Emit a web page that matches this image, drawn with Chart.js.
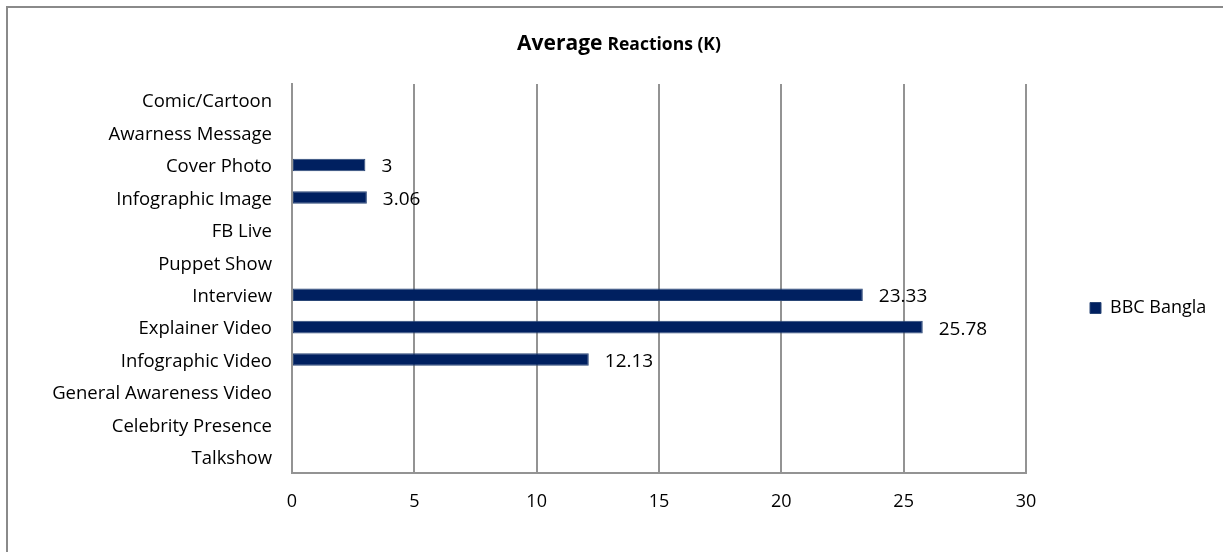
<!DOCTYPE html>
<html>
<head>
<meta charset="utf-8">
<script src="https://cdn.jsdelivr.net/npm/chart.js@4.4.0/dist/chart.umd.min.js"></script>
<style>
  html, body { margin: 0; padding: 0; background: #ffffff; }
  #wrap { position: relative; width: 1223px; height: 552px; }
</style>
</head>
<body>
<div id="wrap"><canvas id="chart"></canvas></div>
<script>
// Content categories, top to bottom
const categories = [
  'Comic/Cartoon', 'Awarness Message', 'Cover Photo', 'Infographic Image',
  'FB Live', 'Puppet Show', 'Interview', 'Explainer Video',
  'Infographic Video', 'General Awareness Video', 'Celebrity Presence', 'Talkshow'
];
// Average reactions in thousands (blank where no posts)
const bbcBangla = [null, null, 3, 3.06, null, null, 23.33, 25.78, 12.13, null, null, null];
const seriesName = 'BBC Bangla';
// Value axis ticks
const xTicks = [0, 5, 10, 15, 20, 25, 30];
// Title pieces: text and font size
const titleParts = [['Average', 21], ['Reactions (K)', 17.5]];

const FONT = "'Open Sans', Lato, sans-serif";
const NAVY = '#002060';
const GRID = '#939393';

// Plot area edges in canvas pixels
const PLOT = { left: 292, right: 1026, top: 84, bottom: 473 };
const W = 1223, H = 552;
const PAD_BOTTOM = 20;

// Legend sizing so the plot ends at PLOT.right
const legendFontSize = 18, legendBox = 11, legendPad = 64;
const mctx = document.createElement('canvas').getContext('2d');
mctx.font = legendFontSize + 'px ' + FONT;
const legendWidth = legendPad + legendBox + legendFontSize / 2 + mctx.measureText(seriesName).width + 10;
const padRight = Math.max(0, W - PLOT.right - legendWidth);

const framePlugin = {
  id: 'frame',
  beforeDraw(chart) {
    const c = chart.ctx;
    c.save();
    c.fillStyle = '#ffffff';
    c.fillRect(0, 0, chart.width, chart.height);
    c.strokeStyle = '#8a8a8a';
    c.lineWidth = 2;
    c.beginPath();
    c.moveTo(7, H);
    c.lineTo(7, 7);
    c.lineTo(W, 7);
    c.stroke();
    c.restore();
  }
};

const titlePlugin = {
  id: 'mixedTitle',
  afterDraw(chart) {
    const c = chart.ctx;
    c.save();
    c.fillStyle = '#000000';
    c.textBaseline = 'alphabetic';
    const gap = 5;
    let total = 0;
    const widths = titleParts.map(([t, s]) => {
      c.font = 'bold ' + s + 'px ' + FONT;
      const w = c.measureText(t).width;
      total += w;
      return w;
    });
    total += gap * (titleParts.length - 1);
    let x = 619 - total / 2;
    titleParts.forEach(([t, s], i) => {
      c.font = 'bold ' + s + 'px ' + FONT;
      c.fillText(t, x, 50);
      x += widths[i] + gap;
    });
    c.restore();
  }
};

const valueLabels = {
  id: 'valueLabels',
  afterDatasetsDraw(chart) {
    const c = chart.ctx;
    const meta = chart.getDatasetMeta(0);
    c.save();
    c.font = '19px ' + FONT;
    c.fillStyle = '#000000';
    c.textAlign = 'left';
    c.textBaseline = 'middle';
    meta.data.forEach((bar, i) => {
      const v = bbcBangla[i];
      if (v === null || v === undefined) return;
      c.fillText(String(v), bar.x + 16, bar.y + 2);
    });
    c.restore();
  }
};

new Chart(document.getElementById('chart'), {
  type: 'bar',
  data: {
    labels: categories,
    datasets: [{
      label: seriesName,
      data: bbcBangla,
      backgroundColor: NAVY,
      borderColor: '#2a4676',
      borderWidth: 1,
      borderSkipped: false,
      barPercentage: 0.39,
      categoryPercentage: 1
    }]
  },
  options: {
    indexAxis: 'y',
    responsive: true,
    maintainAspectRatio: false,
    animation: false,
    layout: { padding: { top: PLOT.top, left: 0, right: padRight, bottom: PAD_BOTTOM } },
    plugins: {
      title: { display: false },
      tooltip: { enabled: false },
      legend: {
        position: 'right',
        align: 'center',
        labels: {
          boxWidth: legendBox,
          boxHeight: legendBox,
          padding: legendPad,
          color: '#000000',
          font: { family: FONT, size: legendFontSize }
        }
      }
    },
    scales: {
      x: {
        min: 0,
        max: 30,
        afterBuildTicks(scale) { scale.ticks = xTicks.map(v => ({ value: v })); },
        afterFit(scale) { scale.height = H - PAD_BOTTOM - PLOT.bottom; },
        ticks: { color: '#000000', padding: 18, font: { family: FONT, size: 18 } },
        grid: { color: GRID, lineWidth: 2, drawTicks: false },
        border: { display: true, color: GRID, width: 2 }
      },
      y: {
        afterFit(scale) { scale.width = PLOT.left; },
        ticks: { color: '#000000', padding: 20, labelOffset: 2, font: { family: FONT, size: 18.5 } },
        grid: { display: false, drawTicks: false },
        border: { display: true, color: GRID, width: 2 }
      }
    }
  },
  plugins: [framePlugin, titlePlugin, valueLabels]
});
</script>
</body>
</html>
